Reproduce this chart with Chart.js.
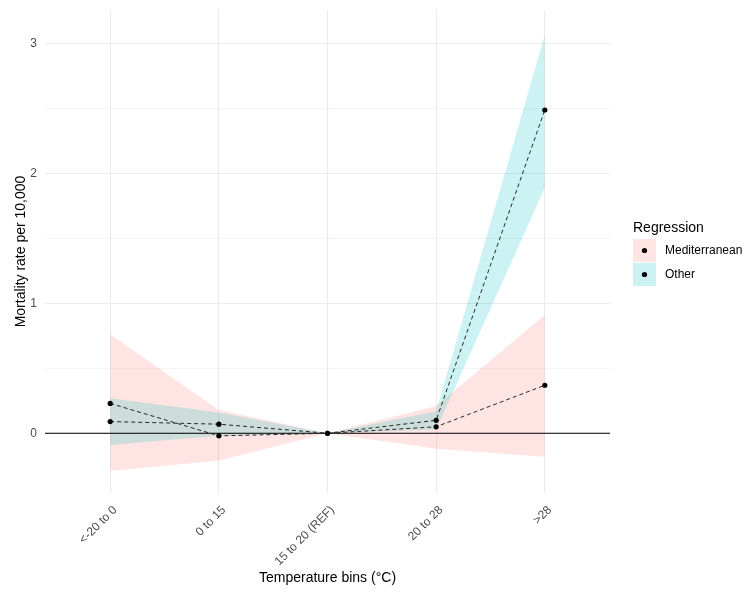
<!DOCTYPE html>
<html>
<head>
<meta charset="utf-8">
<script src="https://cdn.jsdelivr.net/npm/chart.js@4"></script>
<style>
  html, body { margin: 0; padding: 0; background: #fff; }
  #wrap { width: 749px; height: 592px; position: relative; }
</style>
</head>
<body>
<div id="wrap"><canvas id="chart"></canvas></div>
<script>
// categories on the x axis
const bins = ['<-20 to 0', '0 to 15', '15 to 20 (REF)', '20 to 28', '>28'];

// Mediterranean estimate and its band
const medEst = [0.23, -0.02, 0, 0.05, 0.37];
const medLow = [-0.29, -0.21, 0, -0.12, -0.18];
const medHigh = [0.76, 0.18, 0, 0.21, 0.91];

// Other estimate and its band
const othEst = [0.09, 0.07, 0, 0.10, 2.49];
const othLow = [-0.09, -0.02, 0, 0.03, 1.89];
const othHigh = [0.27, 0.16, 0, 0.17, 3.07];

const yTicks = [0, 0.5, 1, 1.5, 2, 2.5, 3];
const xTicks = [0, 1, 2, 3, 4];

const PINK = 'rgba(248,118,109,0.2)';
const CYAN = 'rgba(0,191,196,0.2)';
const FONT = '"Liberation Sans", Arial, sans-serif';

const pts = arr => arr.map((v, i) => ({ x: i, y: v }));

function band(vals, fill, order, fillTo) {
    return {
        data: pts(vals),
        borderWidth: 0,
        pointRadius: 0,
        backgroundColor: fill,
        fill: fillTo,
        order: order
    };
}

function est(vals) {
    return {
        data: pts(vals),
        borderColor: '#262626',
        borderWidth: 1,
        borderDash: [4, 3],
        pointRadius: 2.6,
        pointBackgroundColor: '#000',
        pointBorderWidth: 0,
        fill: false,
        order: 0
    };
}

// legend drawn by hand, ggplot style
const legendPlugin = {
    id: 'ggLegend',
    afterDraw(chart) {
        const ctx = chart.ctx;
        ctx.save();
        ctx.fillStyle = '#000';
        ctx.font = '14px ' + FONT;
        ctx.textBaseline = 'alphabetic';
        ctx.fillText('Regression', 633, 232);
        const items = [['Mediterranean', PINK], ['Other', CYAN]];
        items.forEach((it, i) => {
            const y0 = 239 + i * 24;
            ctx.fillStyle = it[1];
            ctx.fillRect(633, y0, 23, 23);
            ctx.fillStyle = '#000';
            ctx.beginPath();
            ctx.arc(644.5, y0 + 11.5, 2.6, 0, Math.PI * 2);
            ctx.fill();
            ctx.font = '12px ' + FONT;
            ctx.textBaseline = 'middle';
            ctx.fillText(it[0], 665, y0 + 12);
        });
        ctx.restore();
    }
};

new Chart(document.getElementById('chart'), {
    type: 'line',
    data: {
        datasets: [
            band(medHigh, PINK, 3, false),
            band(medLow, PINK, 3, '-1'),
            band(othHigh, CYAN, 2, false),
            band(othLow, CYAN, 2, '-1'),
            {
                data: [{ x: -0.6, y: 0 }, { x: 4.6, y: 0 }],
                borderColor: '#000',
                borderWidth: 1,
                pointRadius: 0,
                fill: false,
                order: 1
            },
            est(medEst),
            est(othEst)
        ]
    },
    plugins: [legendPlugin],
    options: {
        responsive: true,
        maintainAspectRatio: false,
        animation: false,
        layout: { padding: { top: 10, right: 139, left: 0, bottom: 0 } },
        plugins: { legend: { display: false }, tooltip: { enabled: false } },
        scales: {
            x: {
                type: 'linear',
                min: -0.6,
                max: 4.6,
                afterBuildTicks: s => { s.ticks = xTicks.map(v => ({ value: v })); },
                afterFit: s => { s.height = 99; s.paddingLeft = 0; s.paddingRight = 0; },
                grid: { color: '#EBEBEB', lineWidth: 1.07, drawTicks: false },
                border: { display: false },
                ticks: {
                    autoSkip: false,
                    maxRotation: 45,
                    minRotation: 45,
                    padding: 10,
                    labelOffset: 5,
                    color: '#4D4D4D',
                    font: { family: FONT, size: 12 },
                    callback: v => bins[v]
                },
                title: {
                    display: true,
                    text: 'Temperature bins (°C)',
                    color: '#000',
                    font: { family: FONT, size: 14 },
                    padding: { top: 0, bottom: 5 }
                }
            },
            y: {
                min: -0.46,
                max: 3.26,
                afterBuildTicks: s => { s.ticks = yTicks.map(v => ({ value: v })); },
                afterFit: s => { s.width = 45; s.paddingTop = 0; s.paddingBottom = 0; },
                grid: {
                    color: '#EBEBEB',
                    drawTicks: false,
                    lineWidth: c => (c.tick && Number.isInteger(c.tick.value)) ? 1.07 : 0.53
                },
                border: { display: false },
                ticks: {
                    padding: 8,
                    color: '#4D4D4D',
                    font: { family: FONT, size: 12 },
                    callback: v => Number.isInteger(v) ? String(v) : ''
                },
                title: {
                    display: true,
                    text: 'Mortality rate per 10,000',
                    color: '#000',
                    font: { family: FONT, size: 14 },
                    padding: { top: 13, bottom: 0 }
                }
            }
        }
    }
});
</script>
</body>
</html>
